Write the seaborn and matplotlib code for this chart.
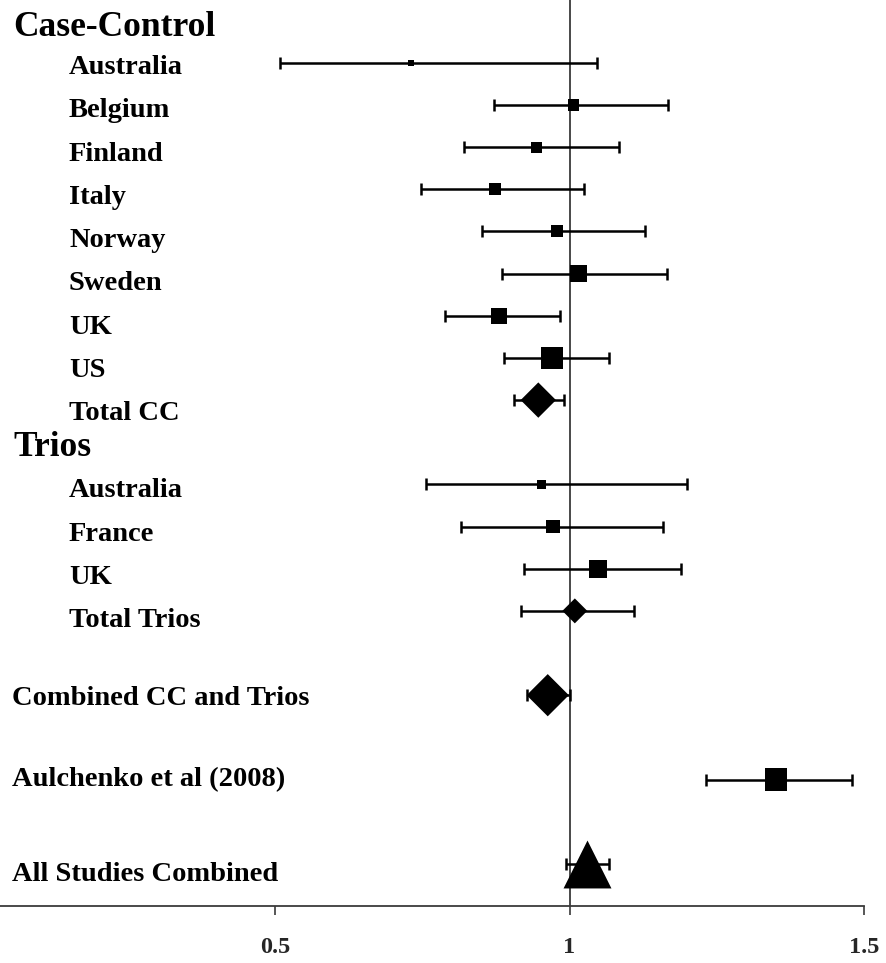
import numpy as np
import pandas as pd
import matplotlib
matplotlib.use("Agg")
import matplotlib.pyplot as plt
import matplotlib.transforms as mtransforms
import seaborn as sns

sns.set_theme(style="white")
plt.rcParams['font.family'] = ['Liberation Serif', 'DejaVu Serif']
plt.rcParams['font.weight'] = 'bold'

# Forest plot data (odds ratios with 95% CI)
labels = ["Case-Control", "Australia", "Belgium", "Finland", "Italy", "Norway",
          "Sweden", "UK", "US", "Total CC", "Trios", "Australia", "France",
          "UK", "Total Trios", "Combined CC and Trios", "Aulchenko et al (2008)",
          "All Studies Combined"]
label_level = ["head", "sub", "sub", "sub", "sub", "sub", "sub", "sub", "sub",
               "sub", "head", "sub", "sub", "sub", "sub", "top", "top", "top"]

rows = [1, 2, 3, 4, 5, 6, 7, 8, 9, 11, 12, 13, 14, 16, 18, 20]
odds = [0.731, 1.007, 0.944, 0.873, 0.978, 1.015, 0.880, 0.970, 0.947,
        0.952, 0.972, 1.048, 1.009, 0.963, 1.350, 1.030]
lower = [0.509, 0.871, 0.820, 0.747, 0.851, 0.885, 0.788, 0.888, 0.906,
         0.756, 0.816, 0.923, 0.918, 0.927, 1.231, 0.994]
upper = [1.047, 1.168, 1.084, 1.025, 1.128, 1.166, 0.983, 1.067, 0.991,
         1.200, 1.159, 1.189, 1.110, 1.001, 1.480, 1.067]
kind = ["study"] * 8 + ["pooled"] + ["study"] * 3 + ["pooled", "pooled", "study", "overall"]

# layout: text rows (the labels sit on a slightly looser grid than the marks)
label_rows = [0.08, 1.05, 2.07, 3.10, 4.12, 5.15, 6.17, 7.20, 8.22, 9.25,
              10.05, 11.08, 12.11, 13.13, 14.16, 16.02, 17.93, 20.19]
# marker size in points (study weight)
box_pt = [4.5, 8, 8, 8.7, 8.7, 12.5, 11.5, 16, 18, 6.5, 9.5, 13, 12.7, 21.5, 16, 34.5]

df = pd.DataFrame({"row": rows, "odds": odds, "lower": lower, "upper": upper,
                   "kind": kind, "box": box_pt})

fig = plt.figure(figsize=(8.87, 9.63), dpi=100)
ax = fig.add_axes([0.0, 1 - 906 / 963, 864 / 887, 906 / 963])

ax.axvline(1, color="#3a3a3a", lw=1.3, zorder=1)
ax.errorbar(df["odds"], df["row"],
            xerr=[df["odds"] - df["lower"], df["upper"] - df["odds"]],
            fmt="none", ecolor="black", elinewidth=1.8, capsize=4.3, capthick=1.8,
            zorder=2)

markers = {"study": "s", "pooled": "D", "overall": "^"}
for k, m in markers.items():
    sub = df[df["kind"] == k]
    sns.scatterplot(x=sub["odds"], y=sub["row"], marker=m, s=sub["box"] ** 2,
                    color="black", linewidth=0, ax=ax, zorder=3, legend=False)

ax.set_xlim(0.033, 1.5)
ax.set_ylim(21.0, -0.49)
ax.set_xticks([0.5, 1, 1.5])
ax.set_xticklabels(["0.5", "1", "1.5"], fontsize=17.5, fontweight="bold")
ax.set_yticks([])
ax.set_xlabel("")
ax.set_ylabel("")
for s in ["left", "right", "top"]:
    ax.spines[s].set_visible(False)
ax.spines["bottom"].set_color("#3a3a3a")
ax.spines["bottom"].set_linewidth(1.3)
ax.tick_params(axis="x", direction="out", length=6.5, width=1.2,
               color="#3a3a3a", pad=16, bottom=True)

trans = mtransforms.blended_transform_factory(fig.transFigure, ax.transData)
for text, r, lev in zip(labels, label_rows, label_level):
    if lev == "head":
        x, size = 13 / 887, 25.5
    elif lev == "sub":
        x, size = 69 / 887, 20.5
    else:
        x, size = 12 / 887, 20.5
    # baseline sits half a cap height below the row
    off = mtransforms.ScaledTranslation(0, -0.33 * size / 72, fig.dpi_scale_trans)
    ax.text(x, r, text, transform=trans + off, fontsize=size, fontweight="bold",
            ha="left", va="baseline", color="black")

fig.savefig("out.png", dpi=100)
